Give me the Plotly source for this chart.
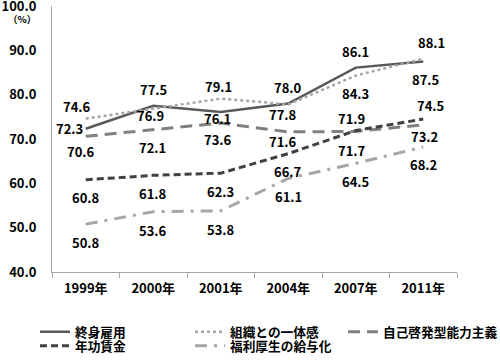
import plotly.graph_objects as go

years = ["1999年", "2000年", "2001年", "2004年", "2007年", "2011年"]
shushin_koyo = [72.3, 77.5, 76.1, 78.0, 86.1, 87.5]
soshiki_ittaikan = [74.6, 76.9, 79.1, 77.8, 84.3, 88.1]
jiko_keihatsu = [70.6, 72.1, 73.6, 71.6, 71.7, 73.2]
nenko_chingin = [60.8, 61.8, 62.3, 66.7, 71.9, 74.5]
fukuri_kosei = [50.8, 53.6, 53.8, 61.1, 64.5, 68.2]
y_ticks = [40, 50, 60, 70, 80, 90, 100]

FONT = "Noto Sans CJK JP"
W, H = 500, 360
PLOT_LEFT, PLOT_RIGHT = 52, 457
PLOT_TOP, PLOT_BOTTOM = 6, 272
PLOT_W = PLOT_RIGHT - PLOT_LEFT
PLOT_H = PLOT_BOTTOM - PLOT_TOP

# (name, values, line style, legend left px, legend row centre px, label offsets)
series = [
    ("終身雇用", shushin_koyo, dict(color="#595959", width=2.5, dash="solid"), 35, 332,
     [(-16, 0), (0, -16), (-3, 7), (0, -16), (0, -16), (2, 18)]),
    ("組織との一体感", soshiki_ittaikan, dict(color="#A6A6A6", width=2.5, dash="dot"), 190, 332,
     [(-9, -12), (-3, 7), (-2, -12), (-5, 10), (0, 18), (8, -16)]),
    ("自己啓発型能力主義", jiko_keihatsu, dict(color="#808080", width=3, dash="12px,7px"), 343, 332,
     [(-5, 15), (-1, 18), (-3, 16), (-5, 10), (-4, 19), (1, 12)]),
    ("年功賃金", nenko_chingin, dict(color="#404040", width=3, dash="7px,4px"), 35, 346,
     [(0, 18), (0, 18), (0, 18), (0, 18), (-4, -12), (7, -14)]),
    ("福利厚生の給与化", fukuri_kosei, dict(color="#A6A6A6", width=3, dash="12px,7px,3px,7px"), 190, 346,
     [(0, 18), (0, 19), (0, 19), (0, 18), (0, 18), (0, 18)]),
]

fig = go.Figure()
annotations = []
legends = {}
for i, (name, vals, line, lx, ly, offs) in enumerate(series):
    key = "legend" if i == 0 else f"legend{i + 1}"
    fig.add_trace(go.Scatter(x=years, y=vals, mode="lines", name=name, line=line, legend=key))
    legends[key] = dict(orientation="h", xref="paper", yref="paper",
                        x=(lx - PLOT_LEFT) / PLOT_W, xanchor="left",
                        y=(PLOT_BOTTOM - ly) / PLOT_H, yanchor="middle",
                        font=dict(family=FONT, size=12.7, color="#000000", weight="bold"),
                        bgcolor="rgba(0,0,0,0)", borderwidth=0)
    for xv, yv, (dx, dy) in zip(years, vals, offs):
        annotations.append(dict(x=xv, y=yv, xref="x", yref="y", text=f"<b>{yv:.1f}</b>",
                                showarrow=False, xshift=dx, yshift=-dy,
                                xanchor="center", yanchor="middle",
                                font=dict(family=FONT, size=13, color="#000000")))

annotations.append(dict(x=(22 - PLOT_LEFT) / PLOT_W, y=(PLOT_BOTTOM - 19) / PLOT_H,
                        xref="paper", yref="paper", text="<b>（%）</b>",
                        showarrow=False, xanchor="center", yanchor="middle",
                        font=dict(family=FONT, size=9.5, color="#000000")))

fig.update_layout(
    width=W, height=H,
    margin=dict(l=PLOT_LEFT, r=W - PLOT_RIGHT, t=PLOT_TOP, b=H - PLOT_BOTTOM, autoexpand=False),
    plot_bgcolor="white", paper_bgcolor="white",
    font=dict(family=FONT, size=13, color="#000000"),
    showlegend=True,
    annotations=annotations,
    xaxis=dict(type="category", range=[-0.5, 5.5], showline=True, linecolor="#A6A6A6", linewidth=1,
               ticks="outside", tickson="boundaries", ticklen=5, tickcolor="#A6A6A6",
               showgrid=False, tickfont=dict(family=FONT, size=13, weight="bold"),
               ticklabelstandoff=4, automargin=False),
    yaxis=dict(range=[40, 100], tickvals=y_ticks, ticktext=[f"{v:.1f}" for v in y_ticks],
               showline=True, linecolor="#A6A6A6", linewidth=1, ticks="", showgrid=False,
               zeroline=False, tickfont=dict(family=FONT, size=13, weight="bold"),
               ticklabelstandoff=12, automargin=False, ticklabeloverflow="allow"),
    **legends,
)

fig.write_html("out.html", config={"displayModeBar": False},
               post_script="document.body.style.margin='0';")
